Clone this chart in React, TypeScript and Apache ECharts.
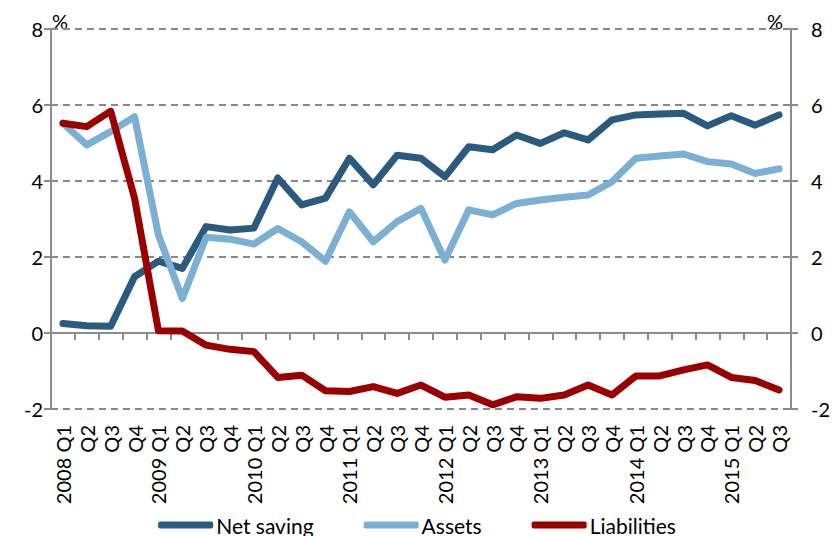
import React, { useEffect, useRef } from "react";
import * as echarts from "echarts";

const categories = [
  "2008 Q1", "Q2", "Q3", "Q4",
  "2009 Q1", "Q2", "Q3", "Q4",
  "2010 Q1", "Q2", "Q3", "Q4",
  "2011 Q1", "Q2", "Q3", "Q4",
  "2012 Q1", "Q2", "Q3", "Q4",
  "2013 Q1", "Q2", "Q3", "Q4",
  "2014 Q1", "Q2", "Q3", "Q4",
  "2015 Q1", "Q2", "Q3",
];

const netSaving = [
  0.25, 0.19, 0.18, 1.48,
  1.89, 1.70, 2.80, 2.71,
  2.76, 4.08, 3.37, 3.55,
  4.60, 3.90, 4.68, 4.60,
  4.11, 4.90, 4.82, 5.21,
  4.99, 5.27, 5.08, 5.61,
  5.74, 5.76, 5.78, 5.45,
  5.72, 5.47, 5.74,
];

const assets = [
  5.52, 4.95, 5.30, 5.69,
  2.58, 0.91, 2.52, 2.47,
  2.34, 2.75, 2.40, 1.89,
  3.19, 2.40, 2.93, 3.28,
  1.92, 3.24, 3.11, 3.41,
  3.50, 3.57, 3.63, 3.98,
  4.60, 4.66, 4.71, 4.51,
  4.45, 4.20, 4.32,
];

const liabilities = [
  5.52, 5.43, 5.84, 3.55,
  0.06, 0.05, -0.32, -0.43,
  -0.49, -1.17, -1.11, -1.52,
  -1.54, -1.41, -1.59, -1.37,
  -1.69, -1.63, -1.89, -1.68,
  -1.72, -1.63, -1.37, -1.63,
  -1.13, -1.13, -0.97, -0.84,
  -1.17, -1.25, -1.50,
];

const yTicks = { min: -2, max: 8, interval: 2 };

const FONT = "Lato";
const AXIS_GRAY = "#8c8c8c";

export default function App() {
  const ref = useRef<HTMLDivElement>(null);

  useEffect(() => {
    if (!ref.current) return;
    const chart = echarts.init(ref.current, null, { renderer: "svg" });
    const lineSeries = (name: string, data: number[], color: string) => ({
      name,
      type: "line",
      data,
      xAxisIndex: 0,
      yAxisIndex: 0,
      showSymbol: false,
      symbol: "none",
      lineStyle: { color, width: 7, cap: "round", join: "round" },
      itemStyle: { color },
      z: 3,
    });
    chart.setOption({
      animation: false,
      textStyle: { fontFamily: FONT },
      grid: { left: 51, right: 43, top: 29, bottom: 127, containLabel: false },
      xAxis: [
        {
          type: "category",
          data: categories,
          boundaryGap: true,
          position: "bottom",
          axisLine: { show: false, onZero: false },
          axisTick: { show: false },
          axisLabel: {
            interval: 0,
            rotate: 90,
            margin: 16,
            color: "#000",
            fontSize: 20,
            fontFamily: FONT,
          },
          splitLine: { show: false },
        },
        {
          type: "category",
          data: categories,
          boundaryGap: true,
          position: "bottom",
          axisLine: {
            show: true,
            onZero: true,
            onZeroAxisIndex: 0,
            lineStyle: { color: AXIS_GRAY, width: 2 },
          },
          axisTick: {
            show: true,
            interval: 0,
            length: 7,
            lineStyle: { color: AXIS_GRAY, width: 2 },
          },
          axisLabel: { show: false },
          splitLine: { show: false },
        },
      ],
      yAxis: [
        {
          type: "value",
          position: "left",
          ...yTicks,
          axisLine: { show: true, lineStyle: { color: AXIS_GRAY, width: 2 } },
          axisTick: { show: true, length: 7, lineStyle: { color: AXIS_GRAY, width: 2 } },
          axisLabel: { color: "#000", fontSize: 20, fontFamily: FONT, margin: 8 },
          splitLine: {
            show: true,
            lineStyle: { color: "#888888", width: 2, type: [7, 5] },
          },
        },
        {
          type: "value",
          position: "right",
          ...yTicks,
          axisLine: { show: true, lineStyle: { color: AXIS_GRAY, width: 2 } },
          axisTick: { show: true, length: 7, lineStyle: { color: AXIS_GRAY, width: 2 } },
          axisLabel: { color: "#000", fontSize: 20, fontFamily: FONT, margin: 20 },
          splitLine: { show: false },
        },
      ],
      legend: {
        left: "center",
        top: 508,
        itemWidth: 55,
        itemHeight: 7,
        itemGap: 50,
        icon: "roundRect",
        textStyle: { color: "#000", fontSize: 21, lineHeight: 24, fontFamily: FONT, padding: [0, 0, 0, -2] },
        data: ["Net saving", "Assets", "Liabilities"],
      },
      graphic: [
        {
          type: "text",
          left: 52,
          top: 11,
          style: { text: "%", fill: "#000", font: `20px ${FONT}` },
        },
        {
          type: "text",
          left: 767,
          top: 11,
          style: { text: "%", fill: "#000", font: `20px ${FONT}` },
        },
      ],
      series: [
        lineSeries("Net saving", netSaving, "#2a5b7e"),
        lineSeries("Assets", assets, "#7bafd4"),
        lineSeries("Liabilities", liabilities, "#9b0000"),
      ],
    });
    return () => chart.dispose();
  }, []);

  return <div ref={ref} style={{ width: 834, height: 536, position: "absolute", left: 0, top: 0 }} />;
}
